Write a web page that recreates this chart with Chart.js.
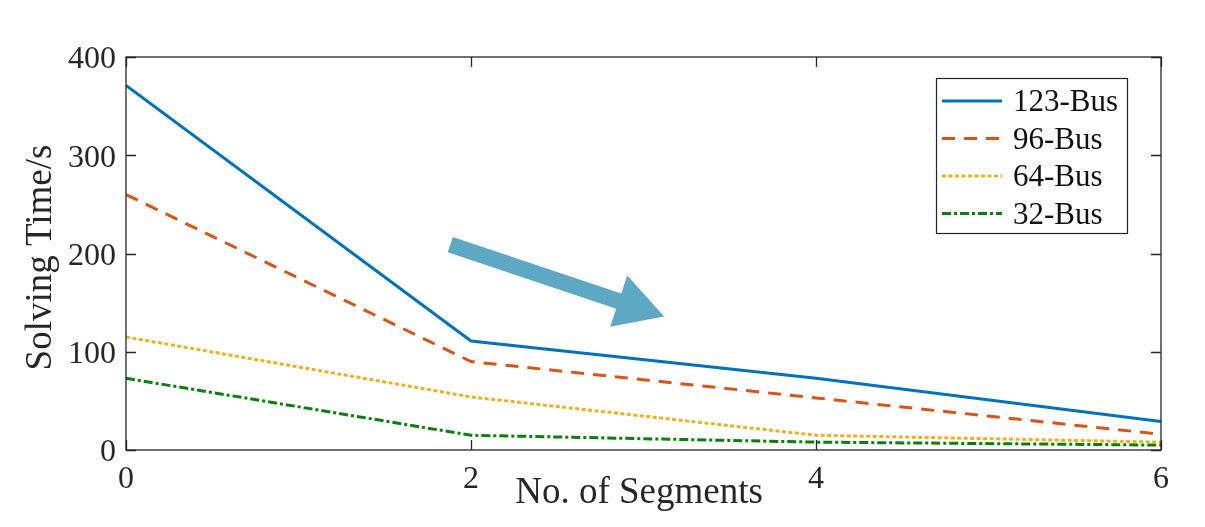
<!DOCTYPE html>
<html>
<head>
<meta charset="utf-8">
<script src="https://cdn.jsdelivr.net/npm/chart.js@4.4.1/dist/chart.umd.min.js"></script>
<style>
  html, body { margin: 0; padding: 0; background: #fff; }
  #wrap { width: 1205px; height: 527px; position: relative; }
</style>
</head>
<body>
<div id="wrap"><canvas id="c"></canvas></div>
<script>
// Solving time vs. number of segments
var segments = [0, 2, 4, 6];
var bus123 = [371, 111, 73, 29];
var bus96 = [260, 90, 53, 16];
var bus64 = [115, 54, 15, 8];
var bus32 = [73, 15, 8, 5];
var xTicks = [0, 2, 4, 6];
var yTicks = [0, 100, 200, 300, 400];
// arrow annotation, in data units (tail -> tip)
var arrowFrom = [1.88, 209];
var arrowTo = [3.12, 136];

var FONT = '"Liberation Serif", "DejaVu Serif", serif';

function pts(ys) {
  return segments.map(function (x, i) { return { x: x, y: ys[i] }; });
}

// box, inward ticks, titles, arrow and legend drawn MATLAB-style
var figPlugin = {
  id: 'fig',
  afterDatasetsDraw: function (chart) {
    var ctx = chart.ctx, a = chart.chartArea;
    var xs = chart.scales.x, ys = chart.scales.y;
    ctx.save();
    // arrow
    var x1 = xs.getPixelForValue(arrowFrom[0]), y1 = ys.getPixelForValue(arrowFrom[1]);
    var x2 = xs.getPixelForValue(arrowTo[0]), y2 = ys.getPixelForValue(arrowTo[1]);
    var ang = Math.atan2(y2 - y1, x2 - x1);
    var len = Math.hypot(x2 - x1, y2 - y1);
    ctx.translate(x1, y1);
    ctx.rotate(ang);
    ctx.fillStyle = '#5fa8c3';
    var hl = 48, hw = 19, sw = 8;
    ctx.beginPath();
    ctx.moveTo(0, -sw);
    ctx.lineTo(len - hl, -sw);
    ctx.lineTo(len - hl, -hw - sw);
    ctx.lineTo(len, 0);
    ctx.lineTo(len - hl, hw + sw);
    ctx.lineTo(len - hl, sw);
    ctx.lineTo(0, sw);
    ctx.closePath();
    ctx.fill();
    ctx.restore();

    ctx.save();
    ctx.strokeStyle = '#262626';
    ctx.lineWidth = 1.3;
    ctx.strokeRect(a.left, a.top, a.right - a.left, a.bottom - a.top);
    ctx.beginPath();
    xTicks.forEach(function (v) {
      var px = Math.round(xs.getPixelForValue(v)) + 0.5;
      ctx.moveTo(px, a.bottom); ctx.lineTo(px, a.bottom - 10);
      ctx.moveTo(px, a.top); ctx.lineTo(px, a.top + 10);
    });
    yTicks.forEach(function (v) {
      var py = Math.round(ys.getPixelForValue(v)) + 0.5;
      ctx.moveTo(a.left, py); ctx.lineTo(a.left + 10, py);
      ctx.moveTo(a.right, py); ctx.lineTo(a.right - 10, py);
    });
    ctx.stroke();

    // axis titles
    ctx.fillStyle = '#262626';
    ctx.font = '37px ' + FONT;
    ctx.textAlign = 'center';
    ctx.textBaseline = 'middle';
    ctx.fillText('No. of Segments', 639, 493);
    ctx.translate(41, (a.top + a.bottom) / 2 + 4);
    ctx.rotate(-Math.PI / 2);
    ctx.fillText('Solving Time/s', 0, 0);
    ctx.restore();

    // legend
    ctx.save();
    var lx = 936, ly = 78, lw = 191, lh = 155;
    ctx.fillStyle = '#fff';
    ctx.fillRect(lx, ly, lw, lh);
    ctx.strokeStyle = '#262626';
    ctx.lineWidth = 1.2;
    ctx.strokeRect(lx + 0.5, ly + 0.5, lw, lh);
    ctx.font = '31px ' + FONT;
    ctx.textAlign = 'left';
    ctx.textBaseline = 'middle';
    chart.data.datasets.forEach(function (ds, i) {
      var yy = ly + 23 + i * 37.5;
      ctx.strokeStyle = ds.borderColor;
      ctx.lineWidth = ds.borderWidth;
      ctx.setLineDash(ds.borderDash || []);
      ctx.beginPath();
      ctx.moveTo(lx + 6, yy); ctx.lineTo(lx + 66, yy);
      ctx.stroke();
      ctx.setLineDash([]);
      ctx.fillStyle = '#111';
      ctx.fillText(ds.label, lx + 77, yy + 2);
    });
    ctx.restore();
  }
};

new Chart(document.getElementById('c'), {
  type: 'line',
  data: {
    datasets: [
      { label: '123-Bus', data: pts(bus123), borderColor: '#0072BD', borderWidth: 3, borderDash: [] },
      { label: '96-Bus', data: pts(bus96), borderColor: '#D95319', borderWidth: 3, borderDash: [13, 9] },
      { label: '64-Bus', data: pts(bus64), borderColor: '#EDB120', borderWidth: 3, borderDash: [4, 2.5] },
      { label: '32-Bus', data: pts(bus32), borderColor: '#0a7f0a', borderWidth: 3, borderDash: [9, 3, 3, 3] }
    ]
  },
  options: {
    responsive: true,
    maintainAspectRatio: false,
    animation: false,
    events: [],
    elements: { point: { radius: 0 }, line: { tension: 0 } },
    layout: { padding: { left: 0, right: 44, top: 57, bottom: 0 } },
    plugins: { legend: { display: false }, tooltip: { enabled: false } },
    scales: {
      x: {
        type: 'linear', min: 0, max: 6,
        afterBuildTicks: function (s) { s.ticks = xTicks.map(function (v) { return { value: v }; }); },
        afterFit: function (s) { s.height = 77; },
        grid: { display: false },
        border: { display: false },
        ticks: { color: '#262626', font: { family: FONT, size: 32 }, padding: 2, maxRotation: 0 }
      },
      y: {
        min: 0, max: 400,
        afterBuildTicks: function (s) { s.ticks = yTicks.map(function (v) { return { value: v }; }); },
        afterFit: function (s) { s.width = 126; },
        grid: { display: false },
        border: { display: false },
        ticks: { color: '#262626', font: { family: FONT, size: 32 }, padding: 2, labelOffset: 3 }
      }
    }
  },
  plugins: [figPlugin]
});
</script>
</body>
</html>
